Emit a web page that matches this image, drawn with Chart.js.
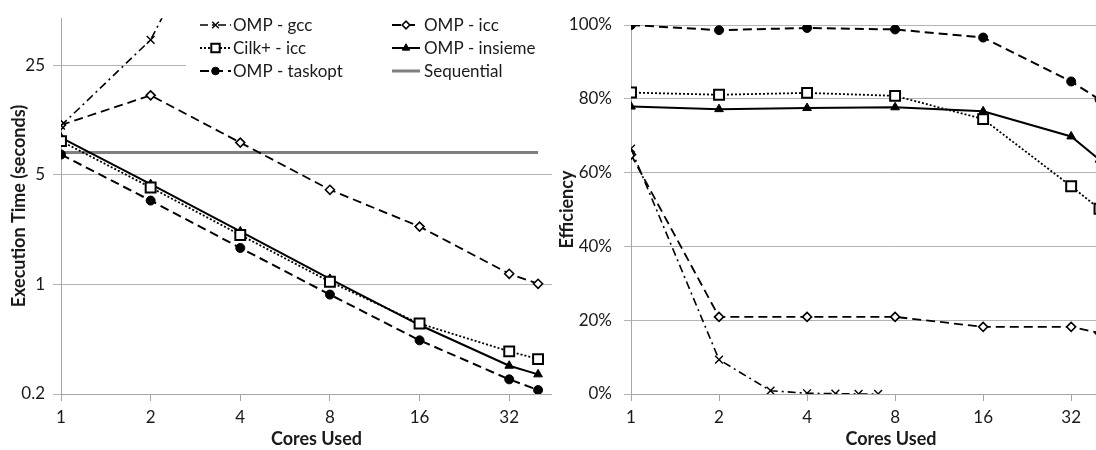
<!DOCTYPE html>
<html>
<head>
<meta charset="utf-8">
<script src="https://cdn.jsdelivr.net/npm/chart.js@4"></script>
<style>
  html, body { margin: 0; padding: 0; background: #fff; width: 1096px; height: 450px; overflow: hidden; }
  #left { position: absolute; left: 0; top: 0; width: 572px; height: 450px; }
  #right { position: absolute; left: 552px; top: 0; width: 599px; height: 450px; background: #fff; }
</style>
</head>
<body>
<div id="left"><canvas id="timeChart" width="572" height="450"></canvas></div>
<div id="right"><canvas id="effChart" width="599" height="450"></canvas></div>
<script>
// cores on the x axis
const cores = [1, 2, 4, 8, 16, 32, 40];
const gccCores = [1, 2, 3];
const gccEffCores = [1, 2, 3, 4, 5, 6, 7];
const coreTicks = [1, 2, 4, 8, 16, 32];
const timeTicks = [0.2, 1, 5, 25];

// execution time (seconds)
const timeGcc = [10.3, 36.4, 160];
const timeIcc = [10.4, 16.1, 8.04, 4.02, 2.34, 1.17, 1.01];
const timeCilk = [8.22, 4.16, 2.07, 1.04, 0.563, 0.374, 0.334];
const timeInsieme = [8.66, 4.37, 2.18, 1.086, 0.551, 0.303, 0.267];
const timeTaskopt = [6.75, 3.43, 1.71, 0.862, 0.44, 0.248, 0.212];
const sequentialTime = 6.94;
const sequentialCores = [1, 40];

// efficiency (%)
const effGcc = [66.5, 9.3, 0.9, 0.2, 0.1, 0, 0];
const effIcc = [64.9, 20.9, 20.9, 20.9, 18.2, 18.2, 16.5];
const effCilk = [81.7, 81.1, 81.6, 80.8, 74.5, 56.3, 50.2];
const effInsieme = [77.9, 77.2, 77.5, 77.7, 76.6, 69.8, 63.5];
const effTaskopt = [100, 98.6, 99.2, 98.8, 96.6, 84.7, 79.8];

const FONT = 'Lato, "Open Sans", sans-serif';
const GRID = '#b4b4b4';
const AXIS = '#a6a6a6';
const TEXT = '#1a1a1a';

const pts = (xs, ys) => ys.map((y, i) => ({ x: xs[i], y: y }));

function styles() {
  return {
    gcc: { borderColor: '#000', borderWidth: 1.6, borderDash: [8, 4, 2, 4], pointStyle: 'crossRot', pointRadius: 5.5, pointBorderWidth: 1.4, pointBackgroundColor: '#000', pointBorderColor: '#000' },
    icc: { borderColor: '#000', borderWidth: 1.8, borderDash: [9, 5], pointStyle: 'rectRot', pointRadius: 4.5, pointBorderWidth: 1.6, pointBackgroundColor: '#fff', pointBorderColor: '#000' },
    cilk: { borderColor: '#000', borderWidth: 1.8, borderDash: [2, 2], pointStyle: 'rect', pointRadius: 7, pointBorderWidth: 2, pointBackgroundColor: '#fff', pointBorderColor: '#000' },
    insieme: { borderColor: '#000', borderWidth: 2, pointStyle: 'triangle', pointRadius: 5, pointBorderWidth: 1, pointBackgroundColor: '#000', pointBorderColor: '#000' },
    taskopt: { borderColor: '#000', borderWidth: 2, borderDash: [9, 5], pointStyle: 'circle', pointRadius: 4.5, pointBorderWidth: 1, pointBackgroundColor: '#000', pointBorderColor: '#000' },
    seq: { borderColor: '#7f7f7f', borderWidth: 3, pointRadius: 0, pointStyle: false }
  };
}

// excel-like legend in the top right of the time chart, 2 columns x 3 rows
const boxLegend = {
  id: 'boxLegend',
  afterDatasetsDraw(chart) {
    const ctx = chart.ctx;
    const cols = [{ x0: 200, x1: 231, tx: 233 }, { x0: 392, x1: 420, tx: 424 }];
    const rows = [25, 48, 71];
    ctx.save();
    ctx.fillStyle = '#fff';
    ctx.fillRect(186, 6, 400, 80);
    chart.data.datasets.forEach((ds, i) => {
      const c = cols[i % 2], y = rows[Math.floor(i / 2)];
      ctx.save();
      ctx.strokeStyle = ds.borderColor;
      ctx.lineWidth = ds.borderWidth;
      ctx.setLineDash(ds.borderDash || []);
      ctx.beginPath();
      ctx.moveTo(c.x0, y);
      ctx.lineTo(c.x1, y);
      ctx.stroke();
      ctx.setLineDash([]);
      if (ds.pointRadius > 0) {
        ctx.fillStyle = ds.pointBackgroundColor;
        ctx.strokeStyle = ds.pointBorderColor;
        ctx.lineWidth = ds.pointBorderWidth;
        Chart.helpers.drawPoint(ctx, { pointStyle: ds.pointStyle, radius: ds.pointRadius * 0.85, borderWidth: ds.pointBorderWidth, rotation: 0 }, (c.x0 + c.x1) / 2, y);
      }
      ctx.restore();
      ctx.fillStyle = TEXT;
      ctx.font = '17px ' + FONT;
      ctx.textBaseline = 'middle';
      ctx.textAlign = 'left';
      ctx.fillText(ds.label, c.tx, y + 1);
    });
    ctx.restore();
  }
};

function coreAxis(max) {
  return {
    type: 'logarithmic',
    min: 1,
    max: max,
    afterBuildTicks: s => { s.ticks = coreTicks.map(v => ({ value: v })); },
    afterFit: s => { s.height = 56; },
    ticks: { color: TEXT, font: { family: FONT, size: 17 }, padding: 6, maxRotation: 0, autoSkip: false, callback: v => String(v) },
    grid: { drawOnChartArea: false, drawTicks: true, tickLength: 7, color: AXIS },
    border: { display: true, color: AXIS, width: 1 },
    title: { display: true, text: 'Cores Used', color: TEXT, font: { family: FONT, size: 18, weight: 'bold' }, padding: { top: 0, bottom: 0 } }
  };
}

const st = styles();

new Chart(document.getElementById('timeChart'), {
  type: 'line',
  data: {
    datasets: [
      Object.assign({ label: 'OMP - gcc', data: pts(gccCores, timeGcc) }, st.gcc),
      Object.assign({ label: 'OMP - icc', data: pts(cores, timeIcc) }, st.icc),
      Object.assign({ label: 'Cilk+ - icc', data: pts(cores, timeCilk) }, st.cilk),
      Object.assign({ label: 'OMP - insieme', data: pts(cores, timeInsieme) }, st.insieme),
      Object.assign({ label: 'OMP - taskopt', data: pts(cores, timeTaskopt) }, st.taskopt),
      Object.assign({ label: 'Sequential', data: sequentialCores.map(x => ({ x: x, y: sequentialTime })) }, st.seq)
    ]
  },
  options: {
    responsive: false,
    animation: false,
    devicePixelRatio: 1,
    layout: { padding: { left: 0, top: 12, right: 0, bottom: 0 }, autoPadding: false },
    plugins: { legend: { display: false }, tooltip: { enabled: false } },
    scales: {
      x: coreAxis(52),
      y: {
        type: 'logarithmic',
        min: 0.2,
        max: 50,
        afterBuildTicks: s => { s.ticks = timeTicks.map(v => ({ value: v })); },
        afterFit: s => { s.width = 61; },
        ticks: { color: TEXT, font: { family: FONT, size: 17 }, padding: 8, autoSkip: false, callback: v => String(v) },
        grid: { color: GRID, tickLength: 8, drawTicks: true },
        border: { display: true, color: AXIS, width: 1 },
        title: { display: true, text: 'Execution Time (seconds)', color: TEXT, font: { family: FONT, size: 18, weight: 'bold' }, padding: { top: 8, bottom: 0 } }
      }
    }
  },
  plugins: [boxLegend]
});

new Chart(document.getElementById('effChart'), {
  type: 'line',
  data: {
    datasets: [
      Object.assign({ label: 'OMP - gcc', data: pts(gccEffCores, effGcc) }, st.gcc),
      Object.assign({ label: 'OMP - icc', data: pts(cores, effIcc) }, st.icc),
      Object.assign({ label: 'Cilk+ - icc', data: pts(cores, effCilk) }, st.cilk),
      Object.assign({ label: 'OMP - insieme', data: pts(cores, effInsieme) }, st.insieme),
      Object.assign({ label: 'OMP - taskopt', data: pts(cores, effTaskopt) }, st.taskopt)
    ]
  },
  options: {
    responsive: false,
    animation: false,
    devicePixelRatio: 1,
    layout: { padding: { left: 0, top: 25, right: 0, bottom: 0 }, autoPadding: false },
    plugins: { legend: { display: false }, tooltip: { enabled: false } },
    scales: {
      x: coreAxis(60),
      y: {
        type: 'linear',
        min: 0,
        max: 100,
        afterFit: s => { s.width = 79; },
        ticks: { stepSize: 20, color: TEXT, font: { family: FONT, size: 17 }, padding: 12, callback: v => v + '%' },
        grid: { color: GRID, tickLength: 7, drawTicks: true },
        border: { display: true, color: AXIS, width: 1 },
        title: { display: true, text: 'Efficiency', color: TEXT, font: { family: FONT, size: 18, weight: 'bold' }, padding: { top: 4, bottom: 0 } }
      }
    }
  }
});
</script>
</body>
</html>
